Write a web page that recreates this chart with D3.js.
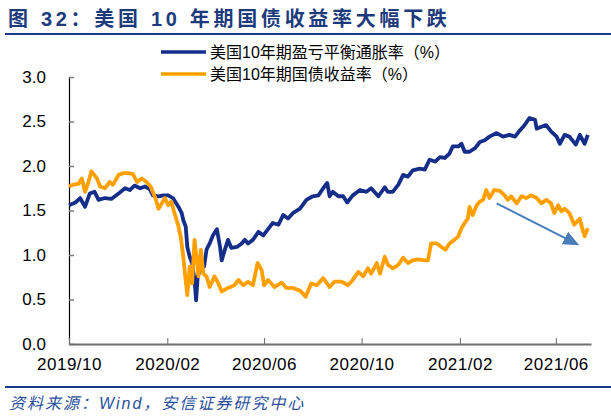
<!DOCTYPE html>
<html>
<head>
<meta charset="utf-8">
<script src="https://cdn.jsdelivr.net/npm/d3@7/dist/d3.min.js"></script>
<style>
  body { margin: 0; background: #fff; }
  svg text { font-family: "Liberation Sans", Arial, "Noto Sans CJK SC", sans-serif; }
</style>
</head>
<body>
<div id="chart"></div>
<script>
// 美国10年期盈亏平衡通胀率
const bpDates = ["2019-10-01","2019-10-09","2019-10-15","2019-10-21","2019-10-27","2019-11-02","2019-11-07","2019-11-15","2019-11-23","2019-12-02","2019-12-10","2019-12-16","2019-12-22","2019-12-29","2020-01-04","2020-01-10","2020-01-14","2020-01-21","2020-01-27","2020-02-02","2020-02-08","2020-02-15","2020-02-19","2020-02-21","2020-02-24","2020-02-26","2020-02-29","2020-03-03","2020-03-06","2020-03-08","2020-03-10","2020-03-13","2020-03-15","2020-03-18","2020-03-21","2020-03-25","2020-03-29","2020-04-03","2020-04-07","2020-04-09","2020-04-13","2020-04-17","2020-04-21","2020-04-28","2020-05-04","2020-05-08","2020-05-12","2020-05-18","2020-05-25","2020-05-31","2020-06-12","2020-06-19","2020-06-25","2020-07-01","2020-07-07","2020-07-16","2020-07-24","2020-08-01","2020-08-08","2020-08-14","2020-08-19","2020-08-22","2020-08-26","2020-09-02","2020-09-08","2020-09-13","2020-09-20","2020-09-29","2020-10-07","2020-10-13","2020-10-22","2020-10-30","2020-11-03","2020-11-09","2020-11-16","2020-11-22","2020-11-28","2020-12-04","2020-12-13","2020-12-19","2020-12-25","2021-01-01","2021-01-07","2021-01-13","2021-01-19","2021-01-23","2021-01-30","2021-02-03","2021-02-07","2021-02-13","2021-02-20","2021-02-26","2021-03-04","2021-03-10","2021-03-19","2021-03-27","2021-04-04","2021-04-11","2021-04-17","2021-04-23","2021-04-29","2021-05-06","2021-05-08","2021-05-14","2021-05-20","2021-05-26","2021-06-02","2021-06-06","2021-06-12","2021-06-18","2021-06-26","2021-07-01","2021-07-07","2021-07-11"];
const bpValues = [1.56,1.59,1.64,1.54,1.69,1.71,1.62,1.64,1.63,1.69,1.75,1.73,1.78,1.75,1.77,1.74,1.67,1.66,1.67,1.67,1.64,1.54,1.47,1.39,1.32,1.09,0.98,0.91,0.72,0.49,0.76,0.83,0.94,0.87,1.06,1.13,1.22,1.29,1.09,0.94,1.06,1.17,1.08,1.09,1.13,1.17,1.13,1.17,1.26,1.22,1.36,1.34,1.45,1.41,1.47,1.52,1.62,1.66,1.67,1.75,1.81,1.66,1.71,1.66,1.66,1.59,1.67,1.73,1.71,1.75,1.66,1.76,1.71,1.71,1.79,1.90,1.88,1.95,1.97,1.96,2.07,2.05,2.10,2.09,2.14,2.22,2.22,2.25,2.16,2.16,2.20,2.27,2.29,2.33,2.37,2.33,2.35,2.33,2.40,2.46,2.54,2.52,2.42,2.44,2.46,2.39,2.33,2.25,2.35,2.33,2.24,2.35,2.25,2.35];

// 美国10年期国债收益率
const ytDates = ["2019-10-01","2019-10-06","2019-10-13","2019-10-17","2019-10-21","2019-10-25","2019-10-29","2019-11-05","2019-11-09","2019-11-15","2019-11-21","2019-11-25","2019-12-02","2019-12-08","2019-12-14","2019-12-20","2019-12-25","2019-12-31","2020-01-06","2020-01-11","2020-01-17","2020-01-21","2020-01-25","2020-01-29","2020-02-02","2020-02-06","2020-02-10","2020-02-15","2020-02-18","2020-02-21","2020-02-23","2020-02-26","2020-02-29","2020-03-03","2020-03-06","2020-03-09","2020-03-11","2020-03-14","2020-03-17","2020-03-21","2020-03-25","2020-03-31","2020-04-05","2020-04-09","2020-04-17","2020-04-25","2020-04-30","2020-05-06","2020-05-12","2020-05-18","2020-05-24","2020-05-29","2020-06-01","2020-06-06","2020-06-14","2020-06-23","2020-06-29","2020-07-07","2020-07-16","2020-07-23","2020-07-30","2020-08-06","2020-08-14","2020-08-22","2020-08-28","2020-09-06","2020-09-14","2020-09-20","2020-09-27","2020-10-03","2020-10-09","2020-10-13","2020-10-20","2020-10-24","2020-10-30","2020-11-03","2020-11-09","2020-11-16","2020-11-22","2020-11-28","2020-12-04","2020-12-11","2020-12-19","2020-12-23","2020-12-27","2021-01-03","2021-01-09","2021-01-14","2021-01-19","2021-01-25","2021-01-30","2021-02-03","2021-02-07","2021-02-11","2021-02-13","2021-02-17","2021-02-22","2021-02-26","2021-03-02","2021-03-06","2021-03-10","2021-03-16","2021-03-23","2021-03-29","2021-04-02","2021-04-06","2021-04-13","2021-04-19","2021-04-25","2021-05-01","2021-05-08","2021-05-14","2021-05-20","2021-05-26","2021-05-30","2021-06-04","2021-06-08","2021-06-12","2021-06-18","2021-06-24","2021-07-01","2021-07-04","2021-07-07","2021-07-11"];
const ytValues = [1.77,1.79,1.80,1.86,1.71,1.81,1.94,1.86,1.77,1.75,1.82,1.79,1.90,1.92,1.92,1.91,1.82,1.86,1.82,1.77,1.64,1.52,1.58,1.64,1.56,1.60,1.47,1.32,1.19,0.98,0.79,0.55,0.87,0.68,1.17,0.94,0.76,1.06,0.79,0.76,0.64,0.76,0.68,0.59,0.63,0.66,0.72,0.66,0.70,0.66,0.91,0.83,0.66,0.72,0.64,0.69,0.63,0.63,0.60,0.53,0.68,0.66,0.74,0.64,0.70,0.70,0.66,0.72,0.81,0.76,0.85,0.79,0.91,0.79,0.98,0.89,0.85,0.89,0.97,0.91,0.94,0.95,0.94,0.94,1.13,1.13,1.09,1.06,1.13,1.17,1.21,1.30,1.36,1.41,1.54,1.45,1.56,1.60,1.62,1.73,1.64,1.73,1.72,1.67,1.62,1.66,1.58,1.66,1.64,1.67,1.64,1.58,1.62,1.58,1.47,1.56,1.49,1.52,1.47,1.34,1.41,1.30,1.21,1.30];

const seriesNames = ["美国10年期盈亏平衡通胀率（%）", "美国10年期国债收益率（%）"];
const seriesColors = ["#142e8a", "#ffa000"];
const yTicks = [0, 0.5, 1.0, 1.5, 2.0, 2.5, 3.0];
const xTickDates = ["2019-10-01", "2020-02-01", "2020-06-01", "2020-10-01", "2021-02-01", "2021-06-01"];
const xTickLabels = ["2019/10", "2020/02", "2020/06", "2020/10", "2021/02", "2021/06"];
const xDomain = ["2019-10-01", "2021-07-15"];
// 趋势箭头（起点、终点）
const arrowDates = ["2021-03-19", "2021-06-28"];
const arrowValues = [1.58, 1.12];

const title = "图 32：美国 10 年期国债收益率大幅下跌";
const source = "资料来源：Wind，安信证券研究中心";

const width = 611, height = 416;
const margin = { left: 69, right: 20, top: 77, bottom: 72 };
const parse = d3.timeParse("%Y-%m-%d");

const svg = d3.select("#chart").append("svg")
  .attr("width", width)
  .attr("height", height);

const x = d3.scaleTime()
  .domain(xDomain.map(parse))
  .range([margin.left, width - margin.right]);

const y = d3.scaleLinear()
  .domain([0, 3])
  .range([height - margin.bottom, margin.top]);

// title
svg.append("text")
  .attr("x", 8).attr("y", 26)
  .attr("font-size", 20).attr("font-weight", "bold")
  .attr("letter-spacing", 3.7)
  .attr("fill", "#1d3b7c")
  .text(title);

svg.append("line")
  .attr("x1", 5).attr("x2", width).attr("y1", 34).attr("y2", 34)
  .attr("stroke", "#1b3a8a").attr("stroke-width", 2);

// axes
const yAxis = d3.axisLeft(y)
  .tickValues(yTicks)
  .tickFormat(d3.format(".1f"))
  .tickSizeInner(-5)
  .tickSizeOuter(0)
  .tickPadding(23);

const gy = svg.append("g")
  .attr("transform", `translate(${margin.left},0)`)
  .call(yAxis);
gy.select(".domain").attr("stroke", "#000").attr("stroke-width", 1.2);
gy.selectAll(".tick line").attr("stroke", "#808080").attr("stroke-width", 1.5);
gy.selectAll(".tick text")
  .attr("font-size", 17)
  .attr("fill", "#000");

const xAxis = d3.axisBottom(x)
  .tickValues(xTickDates.map(parse))
  .tickFormat((d, i) => xTickLabels[i])
  .tickSizeInner(-6)
  .tickSizeOuter(0)
  .tickPadding(14);

const gx = svg.append("g")
  .attr("transform", `translate(0,${y(0)})`)
  .call(xAxis);
gx.select(".domain").attr("stroke", "#6e6e6e").attr("stroke-width", 2);
gx.selectAll(".tick line").attr("stroke", "#6e6e6e").attr("stroke-width", 1);
gx.selectAll(".tick text")
  .attr("font-size", 17)
  .attr("letter-spacing", 0.5)
  .attr("fill", "#000");

// series
const line = d3.line()
  .x(d => x(d[0]))
  .y(d => y(d[1]));

const series = [
  bpDates.map((d, i) => [parse(d), bpValues[i]]),
  ytDates.map((d, i) => [parse(d), ytValues[i]])
];

series.forEach((s, i) => {
  svg.append("path")
    .datum(s)
    .attr("d", line)
    .attr("fill", "none")
    .attr("stroke", seriesColors[i])
    .attr("stroke-width", 3.8)
    .attr("stroke-linejoin", "round");
});

// arrow
svg.append("defs").append("marker")
  .attr("id", "head")
  .attr("markerUnits", "userSpaceOnUse")
  .attr("viewBox", "0 -8 16 16")
  .attr("refX", 14).attr("refY", 0)
  .attr("markerWidth", 16).attr("markerHeight", 16)
  .attr("orient", "auto")
  .append("path")
  .attr("d", "M0,-7L16,0L0,7Z")
  .attr("fill", "#4a7ebb");

svg.append("line")
  .attr("x1", x(parse(arrowDates[0]))).attr("y1", y(arrowValues[0]))
  .attr("x2", x(parse(arrowDates[1]))).attr("y2", y(arrowValues[1]))
  .attr("stroke", "#4a7ebb").attr("stroke-width", 2)
  .attr("marker-end", "url(#head)");

// legend
const legend = svg.append("g");
seriesNames.forEach((name, i) => {
  const ly = 52 + i * 22;
  legend.append("line")
    .attr("x1", 161).attr("x2", 206).attr("y1", ly).attr("y2", ly)
    .attr("stroke", seriesColors[i]).attr("stroke-width", 3.5);
  legend.append("text")
    .attr("x", 210).attr("y", ly)
    .attr("dy", "0.36em")
    .attr("font-size", 16)
    .attr("fill", "#000")
    .text(name);
});

// footer
svg.append("line")
  .attr("x1", 5).attr("x2", width).attr("y1", 387).attr("y2", 387)
  .attr("stroke", "#1b3a8a").attr("stroke-width", 2);

svg.append("text")
  .attr("x", 9).attr("y", 409)
  .attr("font-size", 16)
  .attr("font-style", "italic")
  .attr("letter-spacing", 2)
  .attr("fill", "#2b4f9c")
  .text(source);
</script>
</body>
</html>
